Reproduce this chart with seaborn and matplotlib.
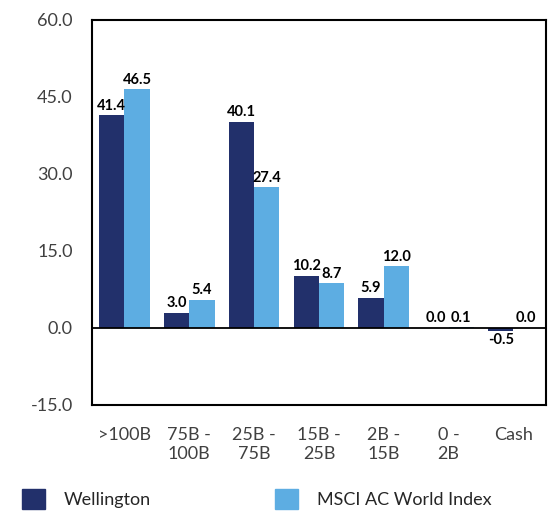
import pandas as pd
import numpy as np
import matplotlib.pyplot as plt
import seaborn as sns

# Data
categories = [">100B", "75B -\n100B", "25B -\n75B", "15B -\n25B", "2B -\n15B", "0 -\n2B", "Cash"]
wellington = [41.4, 3.0, 40.1, 10.2, 5.9, 0.0, -0.5]
msci = [46.5, 5.4, 27.4, 8.7, 12.0, 0.1, 0.0]
series_names = ["Wellington", "MSCI AC World Index"]
palette = ["#22306B", "#5DADE2"]

df = pd.DataFrame({
    "category": categories * 2,
    "value": wellington + msci,
    "series": [series_names[0]] * len(categories) + [series_names[1]] * len(categories),
})

sns.set_theme(style="white")
plt.rcParams['font.family'] = ['Lato', 'DejaVu Sans']

fig = plt.figure(figsize=(5.58, 5.15), dpi=100)
ax = fig.add_axes([0.165, 0.2136, 0.813, 0.7476])

sns.barplot(data=df, x="category", y="value", hue="series", palette=palette,
            width=0.78, saturation=1, linewidth=0, ax=ax, legend=False)

for cont in ax.containers:
    ax.bar_label(cont, fmt="%.1f", fontsize=10.5, fontweight="bold", color="black", padding=2)

ax.axhline(0, color="black", lw=1.3, zorder=3)
ax.set_ylim(-15, 60)
ax.set_yticks([-15, 0, 15, 30, 45, 60])
ax.set_yticklabels([f"{v:.1f}" for v in [-15, 0, 15, 30, 45, 60]])
ax.set_xlabel("")
ax.set_ylabel("")

for s in ax.spines.values():
    s.set_color("black")
    s.set_linewidth(1.5)

ax.tick_params(axis="both", which="both", direction="out", length=8, width=1.2,
               color="#D9D9D9", labelsize=13, labelcolor="#404040", pad=6)
ax.tick_params(axis="x", pad=8)

# Legend below the chart
handles = [plt.Rectangle((0, 0), 1, 1, color=c) for c in palette]
fig.legend(handles, series_names, loc="lower left", bbox_to_anchor=(0.039, 0.012),
           ncol=2, frameon=False, fontsize=13, handlelength=1.3, handleheight=1.3,
           handletextpad=1.0, columnspacing=6.9, borderpad=0, borderaxespad=0,
           labelcolor="#262626")

fig.savefig("out.png", dpi=100)
